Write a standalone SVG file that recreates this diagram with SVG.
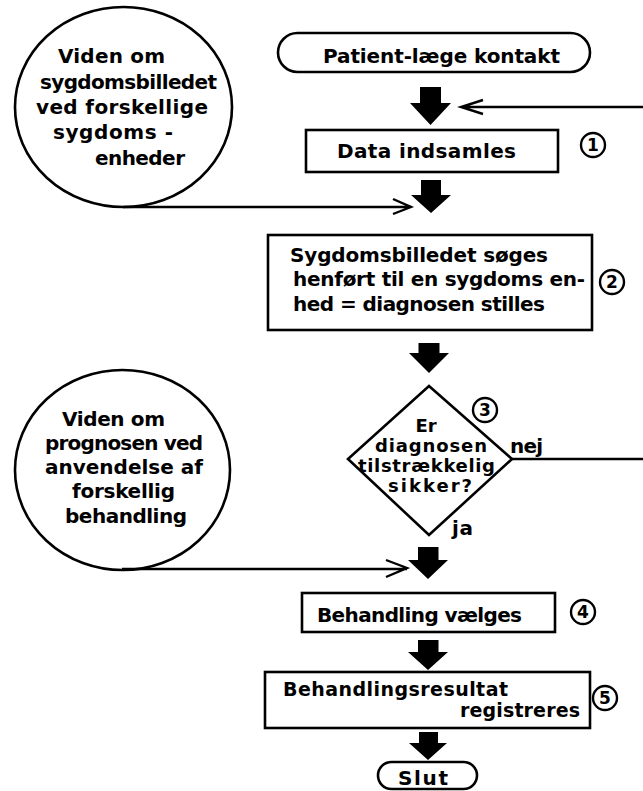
<svg xmlns="http://www.w3.org/2000/svg" width="643" height="791" viewBox="0 0 643 791">
<style>
text{font-family:"DejaVu Sans","Liberation Sans",sans-serif;font-weight:bold;font-size:20px;fill:#000}
.shape{fill:#fff;stroke:#000;stroke-width:2.6}
.num{fill:none;stroke:#000;stroke-width:2.4}
.nt{font-size:17px;text-anchor:middle}
.dt{font-size:18px}
.sm{font-size:19px}
.line{fill:none;stroke:#000;stroke-width:2.4}
.big{fill:#000;stroke:none}
</style>
<rect width="643" height="791" fill="#fff"/>
<g id="knowledge1">
<ellipse class="shape" cx="123.5" cy="107" rx="108.5" ry="100"/>
<text x="58" y="63" textLength="107">Viden om</text>
<text x="40" y="89" textLength="177">sygdomsbilledet</text>
<text x="36" y="114" textLength="172">ved forskellige</text>
<text x="53" y="139" textLength="120">sygdoms -</text>
<text x="95" y="165" textLength="90">enheder</text>
</g>
<g id="start">
<rect class="shape" x="278" y="33" width="312" height="39" rx="19.5" ry="19.5"/>
<text x="323" y="63" textLength="237">Patient-læge kontakt</text>
</g>
<g id="step1">
<rect class="shape" x="306" y="130" width="252" height="42"/>
<text x="337" y="158" textLength="179">Data indsamles</text>
<circle class="num" cx="593" cy="145" r="12"/>
<text class="nt" x="593" y="151">1</text>
</g>
<g id="step2">
<rect class="shape" x="268" y="235" width="324" height="95"/>
<text x="290" y="262" textLength="258">Sygdomsbilledet søges</text>
<text x="293" y="286" textLength="292">henført til en sygdoms en-</text>
<text x="293" y="311" textLength="252">hed = diagnosen stilles</text>
<circle class="num" cx="612" cy="282" r="12"/>
<text class="nt" x="612" y="288">2</text>
</g>
<g id="decision">
<polygon class="shape" points="429,386 512,459 429,535 348,459"/>
<text class="dt" x="426" y="432" text-anchor="middle">Er</text>
<text class="dt" x="375" y="452" textLength="112">diagnosen</text>
<text class="dt" x="358" y="472" textLength="137">tilstrækkelig</text>
<text class="dt" x="388" y="492" textLength="84">sikker?</text>
<circle class="num" cx="485" cy="410" r="12"/>
<text class="nt" x="485" y="416">3</text>
<text x="510" y="453" textLength="33">nej</text>
<text x="452" y="535" textLength="21">ja</text>
</g>
<g id="knowledge2">
<ellipse class="shape" cx="122.5" cy="470" rx="107.5" ry="100"/>
<text x="62" y="426" textLength="103">Viden om</text>
<text x="45" y="450" textLength="158">prognosen ved</text>
<text x="45" y="474" textLength="158">anvendelse af</text>
<text x="72" y="498" textLength="103">forskellig</text>
<text x="65" y="523" textLength="122">behandling</text>
</g>
<g id="step4">
<rect class="shape" x="302" y="593" width="253" height="39"/>
<text x="317" y="622" textLength="205">Behandling vælges</text>
<circle class="num" cx="583" cy="612" r="12"/>
<text class="nt" x="583" y="618">4</text>
</g>
<g id="step5">
<rect class="shape" x="265" y="672" width="325" height="56"/>
<text class="sm" x="283" y="696" textLength="225">Behandlingsresultat</text>
<text class="sm" x="460" y="717" textLength="120">registreres</text>
<circle class="num" cx="605" cy="698" r="12"/>
<text class="nt" x="605" y="704">5</text>
</g>
<g id="end">
<rect class="shape" x="378" y="762" width="99" height="27" rx="13.5" ry="13.5"/>
<text x="398" y="785" textLength="50">Slut</text>
</g>
<g id="connectors">
<polygon class="big" points="420,87 441,87 441,103 451,103 430.5,125 410,103 420,103"/>
<polygon class="big" points="421,180 441,180 441,195 451,195 431,213 411,195 421,195"/>
<polygon class="big" points="418.5,343 439.5,343 439.5,353 449,353 429,373 409,353 418.5,353"/>
<polygon class="big" points="418,547 438.5,547 438.5,560 448,560 428,579 408,560 418,560"/>
<polygon class="big" points="418,640 438.5,640 438.5,652 448,652 428,670 408,652 418,652"/>
<polygon class="big" points="419,732 438,732 438,743 447,743 428,760 409,743 419,743"/>
<path class="line" d="M123,207 H411 M393,199 L411,207 L393,214"/>
<path class="line" d="M643,107 H461 M483,100 L461,107 L483,114"/>
<path class="line" d="M512,459 H643"/>
<path class="line" d="M122,569 H407 M386,560 L407,568 L386,577"/>
</g>
</svg>
